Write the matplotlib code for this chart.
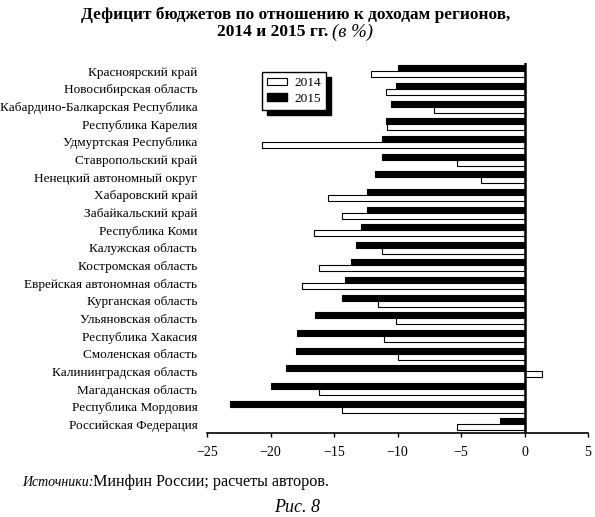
import matplotlib
matplotlib.use("Agg")
import matplotlib.pyplot as plt
from matplotlib.patches import Patch
import numpy as np

regions = [
    "Красноярский край",
    "Новосибирская область",
    "Кабардино-Балкарская Республика",
    "Республика Карелия",
    "Удмуртская Республика",
    "Ставропольский край",
    "Ненецкий автономный округ",
    "Хабаровский край",
    "Забайкальский край",
    "Республика Коми",
    "Калужская область",
    "Костромская область",
    "Еврейская автономная область",
    "Курганская область",
    "Ульяновская область",
    "Республика Хакасия",
    "Смоленская область",
    "Калининградская область",
    "Магаданская область",
    "Республика Мордовия",
    "Российская Федерация",
]
deficit_2014 = [-12.1, -10.9, -7.1, -10.8, -20.7, -5.3, -3.4, -15.5, -14.4, -16.6, -11.2,
                -16.2, -17.5, -11.5, -10.1, -11.1, -10.0, 1.4, -16.2, -14.4, -5.3]
deficit_2015 = [-10.0, -10.1, -10.5, -10.9, -11.2, -11.2, -11.8, -12.4, -12.4, -12.9, -13.3,
                -13.7, -14.1, -14.4, -16.5, -17.9, -18.0, -18.8, -20.0, -23.2, -1.9]
xticks = [-25, -20, -15, -10, -5, 0, 5]

plt.rcParams['font.family'] = ['Liberation Serif', 'DejaVu Serif']

fig = plt.figure(figsize=(5.95, 5.17), dpi=100)
ax = fig.add_axes([207 / 595, 1 - 433 / 517, 381 / 595, 370 / 517])

y = -np.arange(len(regions))
h = 0.34
ax.barh(y + h / 2, deficit_2015, height=h, color='black', edgecolor='black', lw=0.8, label='2015')
ax.barh(y - h / 2, deficit_2014, height=h, color='white', edgecolor='black', lw=0.8, label='2014')
ax.axvline(0, color='black', lw=1.8)

ax.set_xlim(-25, 5)
ax.set_ylim(-20.49, 0.47)
ax.set_xticks(xticks)
ax.set_yticks(y)
ax.set_yticklabels(regions, fontsize=9.5)
ax.tick_params(axis='y', length=0, pad=7)
ax.tick_params(axis='x', direction='out', length=3, width=1, labelsize=10, pad=6)
for s in ['left', 'top', 'right']:
    ax.spines[s].set_visible(False)
ax.spines['bottom'].set_linewidth(1.2)

handles = [Patch(facecolor='white', edgecolor='black', lw=0.8, label='2014'),
           Patch(facecolor='black', edgecolor='black', label='2015')]
leg = ax.legend(handles=handles, loc='upper left', bbox_to_anchor=(55 / 381, 1 - 9 / 370),
                borderaxespad=0, fancybox=False, framealpha=1, edgecolor='black',
                fontsize=9.5, handlelength=1.5, handleheight=0.5, handletextpad=0.55,
                borderpad=0.4, labelspacing=0.25,
                shadow={'color': 'black', 'alpha': 1, 'ox': 3.5, 'oy': -3.5})
leg.get_frame().set_linewidth(1.0)

fig.text(296 / 595, 1 - 15 / 517, "Дефицит бюджетов по отношению к доходам регионов,",
         ha='center', va='center', fontsize=12.4, fontweight='bold')
fig.text(328 / 595, 1 - 32 / 517, "2014 и 2015 гг.", ha='right', va='center',
         fontsize=12.6, fontweight='bold')
fig.text(332 / 595, 1 - 32 / 517, "(в %)", ha='left', va='center', fontsize=13.5, style='italic')

fig.text(22 / 595, 1 - 482 / 517, "Источники:", ha='left', va='center', fontsize=10,
         style='italic')
fig.text(93 / 595, 1 - 482 / 517, "Минфин России; расчеты авторов.", ha='left', va='center',
         fontsize=11.6)
fig.text(297 / 595, 1 - 508 / 517, "Рис. 8", ha='center', va='center', fontsize=13, style='italic')

fig.savefig("out.png", dpi=100)
